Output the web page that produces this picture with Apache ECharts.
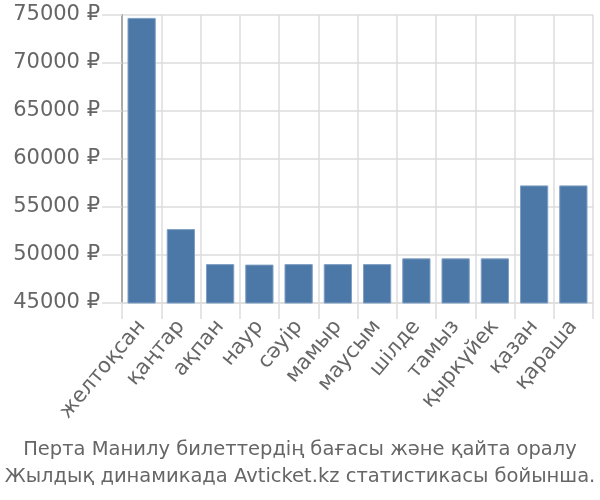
<!DOCTYPE html>
<html>
<head>
<meta charset="utf-8">
<script src="https://cdn.jsdelivr.net/npm/echarts@6/dist/echarts.min.js"></script>
<style>html,body{margin:0;padding:0;background:#fff}#c{width:600px;height:500px}</style>
</head>
<body>
<div id="c"></div>
<script>
const categories = ["желтоқсан","қаңтар","ақпан","наур","сәуір","мамыр","маусым","шілде","тамыз","қыркүйек","қазан","қараша"];
const prices = [74700, 52700, 49050, 49000, 49050, 49050, 49050, 49650, 49650, 49650, 57250, 57250];
const yMin = 45000, yMax = 75000, yStep = 5000;
const titleText = "Перта Манилу билеттердің бағасы және қайта оралу\nЖылдық динамикада Avticket.kz статистикасы бойынша.";

const chart = echarts.init(document.getElementById('c'));
chart.setOption({
  animation: false,
  title: {
    text: titleText,
    left: 'center',
    top: 431,
    textStyle: {fontFamily: 'DejaVu Sans', fontSize: 19.5, fontWeight: 'normal', color: '#666', lineHeight: 27}
  },
  grid: {left: 122, right: 7, top: 15, bottom: 197, containLabel: false},
  xAxis: {
    type: 'category',
    data: categories,
    axisLine: {show: true, lineStyle: {color: '#ddd', width: 1.5}},
    axisTick: {show: true, length: 16, lineStyle: {color: '#ddd', width: 1.5}},
    splitLine: {show: true, lineStyle: {color: '#ddd', width: 1.5}},
    axisLabel: {rotate: 50, margin: 20, fontSize: 21, color: '#666', fontFamily: 'DejaVu Sans', interval: 0}
  },
  yAxis: {
    type: 'value',
    min: yMin, max: yMax, interval: yStep,
    axisLine: {show: true, lineStyle: {color: '#aaa', width: 2}},
    axisTick: {show: true, length: 20, lineStyle: {color: '#ddd', width: 1.5}},
    splitLine: {show: true, lineStyle: {color: '#ddd', width: 1.5}},
    axisLabel: {formatter: function (v) { return String(v) + ' ₽'; }, margin: 22, fontSize: 21, color: '#666', fontFamily: 'DejaVu Sans'}
  },
  series: [{
    type: 'bar',
    data: prices,
    barCategoryGap: '28%',
    itemStyle: {color: '#4c78a7', borderColor: '#7fa0c4', borderWidth: 1}
  }]
});
</script>
</body>
</html>
